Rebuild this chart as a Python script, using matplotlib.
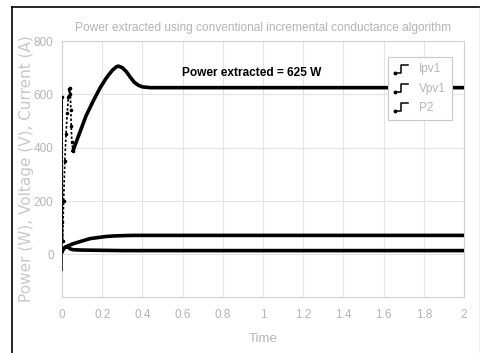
import matplotlib
matplotlib.use("Agg")
import matplotlib.pyplot as plt
from matplotlib.lines import Line2D
from matplotlib.legend_handler import HandlerBase

# ---- data ----
t_ipv = [0.0, 0.005, 0.012, 0.02, 0.028, 0.035, 0.045, 0.06, 0.1, 0.2, 0.3, 0.5, 2.0]
ipv1 = [12, 18, 24, 28, 29, 24, 19, 17, 16, 15, 14, 14, 14]

t_vpv = [0.0, 0.005, 0.015, 0.03, 0.056, 0.1, 0.14, 0.18, 0.22, 0.26, 0.3, 0.35, 2.0]
vpv1 = [5, 20, 26, 32, 40, 50, 59, 63, 67, 69, 70, 71, 71]

t_p2 = [0.0, 0.0008, 0.0015, 0.003, 0.008, 0.014, 0.020, 0.026, 0.032, 0.037,
        0.040, 0.042, 0.044, 0.046, 0.049, 0.055, 0.08, 0.12, 0.156, 0.19,
        0.222, 0.25, 0.27, 0.28, 0.30, 0.32, 0.34, 0.36, 0.38, 0.40, 0.44, 2.0]
p2 = [-60, 590, 120, 50, 200, 350, 450, 530, 590, 620,
      625, 600, 540, 480, 420, 389, 440, 520, 576, 625,
      663, 690, 703, 706, 700, 685, 664, 645, 634, 628, 625, 625]
n_dotted = 16  # early samples drawn with visible sample dots

x_ticks = [0, 0.2, 0.4, 0.6, 0.8, 1, 1.2, 1.4, 1.6, 1.8, 2]
x_tick_labels = ["0", "0.2", "0.4", "0.6", "0.8", "1", "1.2", "1.4", "1.6", "1.8", "2"]
y_ticks = [0, 200, 400, 600, 800]
series_labels = ["Ipv1", "Vpv1", "P2"]

title = "Power extracted using conventional incremental conductance algorithm"
ylabel = "Power (W), Voltage (V), Current (A)"
xlabel = "Time"
annotation = "Power extracted = 625 W"

FONT = "Liberation Sans"
GRAY = "#b4b4b4"
fig = plt.figure(figsize=(4.81, 3.53), dpi=100)
fig.patch.set_facecolor("white")
ax = fig.add_axes([62 / 481, 1 - 297 / 353, (464 - 62) / 481, (297 - 41) / 353])

lw = 2.6
ax.plot(t_ipv, ipv1, color="black", lw=lw, solid_capstyle="butt", zorder=3)
ax.plot(t_vpv, vpv1, color="black", lw=lw, solid_capstyle="butt", zorder=3)
ax.plot(t_p2[:2], p2[:2], color="black", lw=1.0, zorder=3)
ax.plot(t_p2[1:n_dotted], p2[1:n_dotted], color="black", lw=1.2, ls=(0, (1.5, 1.2)),
        marker="o", ms=1.6, zorder=3)
ax.plot(t_p2[n_dotted - 1:], p2[n_dotted - 1:], color="black", lw=lw, zorder=3)

ax.set_xlim(0, 2)
ax.set_ylim(-160, 800)
ax.set_xticks(x_ticks)
ax.set_xticklabels(x_tick_labels)
ax.set_yticks(y_ticks)
ax.grid(True, color="#e4e4e4", lw=0.8)
ax.set_axisbelow(True)
for s in ax.spines.values():
    s.set_color("#d0d0d0")
    s.set_linewidth(0.8)
ax.tick_params(length=0, labelsize=8.5, colors=GRAY, pad=6)
ax.tick_params(axis="x", pad=9)
for lab in ax.get_xticklabels() + ax.get_yticklabels():
    lab.set_family(FONT)

ax.set_title(title, fontsize=8.6, color=GRAY, family=FONT, pad=7)
ax.set_ylabel(ylabel, fontsize=11, color="#c8c8c8", family="DejaVu Sans", labelpad=0)
ax.set_xlabel(xlabel, fontsize=9.5, color=GRAY, family=FONT, labelpad=8)

ax.text(0.473, 0.875, annotation, transform=ax.transAxes, ha="center", va="center",
        fontsize=8.6, fontweight="bold", family=FONT, color="black")


class StepHandler(HandlerBase):
    def create_artists(self, legend, orig_handle, xdescent, ydescent, width, height, fontsize, trans):
        x0 = -xdescent
        y0 = -ydescent
        xs = [x0, x0 + width * 0.45, x0 + width * 0.45, x0 + width]
        ys = [y0 - height * 0.05, y0 - height * 0.05, y0 + height * 0.95, y0 + height * 0.95]
        line = Line2D(xs, ys, color="black", lw=1.1, transform=trans)
        dot = Line2D([x0], [y0 - height * 0.05], color="black", marker="o", ms=1.8, transform=trans)
        return [line, dot]


handles = [Line2D([], [], color="black") for _ in series_labels]
leg = ax.legend(handles, series_labels, handler_map={Line2D: StepHandler()},
                loc="upper right", bbox_to_anchor=(0.970, 0.9375), borderaxespad=0,
                fancybox=False, framealpha=1, edgecolor="#c8c8c8", fontsize=8.5,
                labelspacing=0.6, handlelength=1.1, handletextpad=0.9, borderpad=0.55)
for txt in leg.get_texts():
    txt.set_color(GRAY)
    txt.set_family(FONT)
leg.get_frame().set_linewidth(0.8)
leg.set_zorder(5)

# outer frame of the screenshot
fig.add_artist(Line2D([12 / 481, 12 / 481], [0, 1 - 7 / 353], color="black", lw=1.2, transform=fig.transFigure))
fig.add_artist(Line2D([12 / 481, 480 / 481], [1 - 7 / 353, 1 - 7 / 353], color="black", lw=1.2, transform=fig.transFigure))
fig.add_artist(Line2D([480 / 481, 480 / 481], [0, 1 - 7 / 353], color="#bbbbbb", lw=1.0, transform=fig.transFigure))

fig.savefig("out.png", dpi=100)
